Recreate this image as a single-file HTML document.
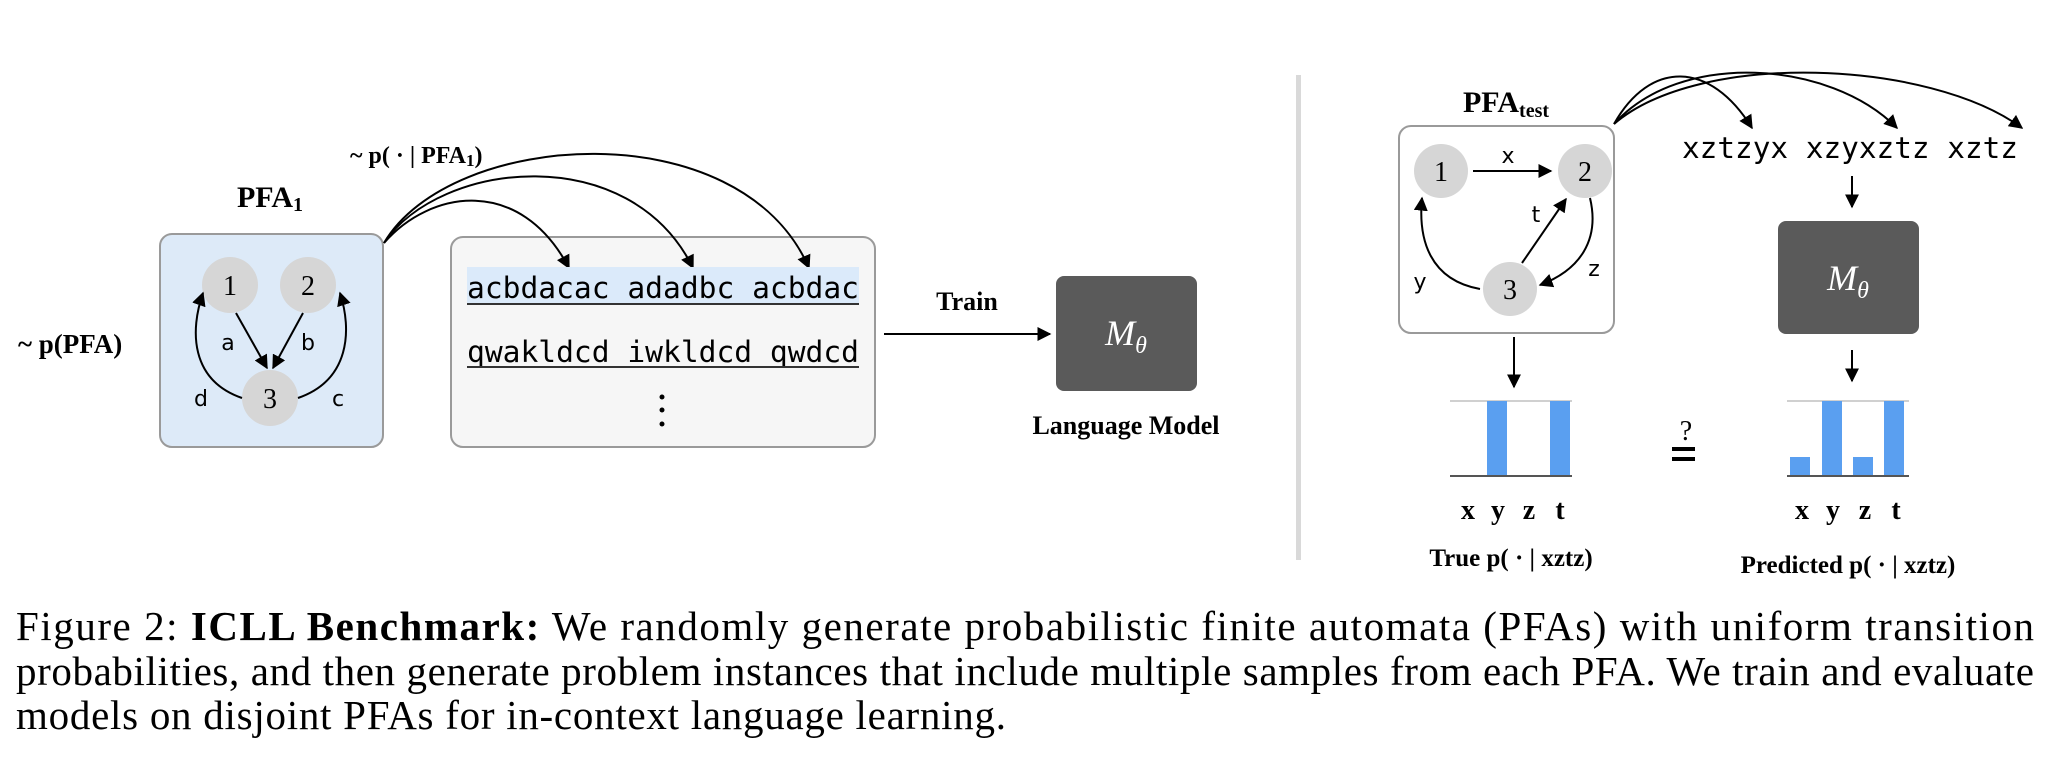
<!DOCTYPE html>
<html><head><meta charset="utf-8"><style>
html,body{margin:0;padding:0;background:#fff}
svg{display:block}
.serif{font-family:"Liberation Serif",serif}
.mono{font-family:"DejaVu Sans Mono","Liberation Mono",monospace}
.sans{font-family:"DejaVu Sans","Liberation Sans",sans-serif}
</style></head><body>
<svg width="2052" height="778" viewBox="0 0 2052 778" xmlns="http://www.w3.org/2000/svg">
<defs>
<marker id="ah" viewBox="0 0 10 10" refX="9" refY="5" markerWidth="7" markerHeight="7" orient="auto-start-reverse">
<path d="M0,0 L10,5 L0,10 z" fill="#000"/></marker>
</defs>
<rect width="2052" height="778" fill="#fff"/>

<!-- left -->
<text x="18" y="353" class="serif" font-size="27" font-weight="bold">~ p(PFA)</text>
<text x="270" y="207" text-anchor="middle" class="serif" font-size="30" font-weight="bold">PFA<tspan font-size="20" dy="4">1</tspan></text>
<rect x="160" y="234" width="223" height="213" rx="12" fill="#ddeaf8" stroke="#9a9a9a" stroke-width="2"/>
<circle cx="230" cy="285" r="28" fill="#d6d6d6"/>
<circle cx="308" cy="285" r="28" fill="#d6d6d6"/>
<circle cx="270" cy="398" r="28" fill="#d6d6d6"/>
<text x="230" y="295" text-anchor="middle" class="serif" font-size="28">1</text>
<text x="308" y="295" text-anchor="middle" class="serif" font-size="28">2</text>
<text x="270" y="408" text-anchor="middle" class="serif" font-size="28">3</text>
<g stroke="#000" stroke-width="2" fill="none" marker-end="url(#ah)">
<line x1="236" y1="313" x2="267" y2="368"/>
<line x1="303" y1="313" x2="273" y2="368"/>
<path d="M242,398 C190,380 190,330 203,293"/>
<path d="M298,398 C350,380 352,330 340,293"/>
</g>
<text x="228" y="350" text-anchor="middle" class="sans" font-size="22">a</text>
<text x="308" y="350" text-anchor="middle" class="sans" font-size="22">b</text>
<text x="201" y="406" text-anchor="middle" class="sans" font-size="22">d</text>
<text x="338" y="406" text-anchor="middle" class="sans" font-size="22">c</text>

<rect x="451" y="237" width="424" height="210" rx="12" fill="#f6f6f6" stroke="#9a9a9a" stroke-width="2"/>
<text x="350" y="163" class="serif" font-size="24" font-weight="bold">~ p( · | PFA<tspan font-size="17" dy="3">1</tspan><tspan dy="-3">)</tspan></text>
<g stroke="#000" stroke-width="2" fill="none" marker-end="url(#ah)">
<path d="M384,243 C430,190 520,175 569,268"/>
<path d="M384,243 C440,160 630,140 693,268"/>
<path d="M384,243 C450,130 740,110 809,268"/>
</g>

<rect x="467" y="267" width="392" height="38" fill="#dbeafa"/>
<text x="467" y="298" class="mono" font-size="29" textLength="392" lengthAdjust="spacingAndGlyphs">acbdacac adadbc acbdac</text>
<line x1="467" y1="304" x2="859" y2="304" stroke="#333" stroke-width="2"/>
<text x="467" y="362" class="mono" font-size="29" textLength="392" lengthAdjust="spacingAndGlyphs">qwakldcd iwkldcd qwdcd</text>
<line x1="467" y1="367" x2="859" y2="367" stroke="#333" stroke-width="2"/>
<circle cx="662" cy="397" r="2.5" fill="#000"/>
<circle cx="662" cy="410" r="2.5" fill="#000"/>
<circle cx="662" cy="424" r="2.5" fill="#000"/>

<text x="967" y="310" text-anchor="middle" class="serif" font-size="26" font-weight="bold">Train</text>
<line x1="884" y1="334" x2="1050" y2="334" stroke="#000" stroke-width="2" marker-end="url(#ah)"/>
<rect x="1056" y="276" width="141" height="115" rx="8" fill="#5a5a5a"/>
<text x="1126" y="345" text-anchor="middle" class="serif" font-size="36" font-style="italic" fill="#fff">M<tspan font-size="24" dy="8">θ</tspan></text>
<text x="1126" y="434" text-anchor="middle" class="serif" font-size="26" font-weight="bold">Language Model</text>

<rect x="1296" y="75" width="5" height="485" fill="#d9d9d9"/>

<!-- right -->
<text x="1506" y="112" text-anchor="middle" class="serif" font-size="30" font-weight="bold">PFA<tspan font-size="20" dy="5">test</tspan></text>
<rect x="1399" y="126" width="215" height="207" rx="12" fill="#fff" stroke="#9a9a9a" stroke-width="2"/>
<circle cx="1441" cy="171" r="27" fill="#d6d6d6"/>
<circle cx="1585" cy="171" r="27" fill="#d6d6d6"/>
<circle cx="1510" cy="289" r="27" fill="#d6d6d6"/>
<text x="1441" y="181" text-anchor="middle" class="serif" font-size="28">1</text>
<text x="1585" y="181" text-anchor="middle" class="serif" font-size="28">2</text>
<text x="1510" y="299" text-anchor="middle" class="serif" font-size="28">3</text>
<g stroke="#000" stroke-width="2" fill="none" marker-end="url(#ah)">
<line x1="1473" y1="171" x2="1551" y2="171"/>
<line x1="1522" y1="263" x2="1566" y2="199"/>
<path d="M1480,289 C1430,280 1418,240 1422,198"/>
<path d="M1590,198 C1600,240 1580,270 1540,285"/>
</g>
<text x="1508" y="163" text-anchor="middle" class="sans" font-size="22">x</text>
<text x="1536" y="222" text-anchor="middle" class="sans" font-size="22">t</text>
<text x="1420" y="289" text-anchor="middle" class="sans" font-size="22">y</text>
<text x="1594" y="276" text-anchor="middle" class="sans" font-size="22">z</text>

<g stroke="#000" stroke-width="2" fill="none" marker-end="url(#ah)">
<path d="M1614,124 C1650,60 1710,60 1752,128"/>
<path d="M1614,124 C1680,50 1830,60 1897,128"/>
<path d="M1614,124 C1700,50 1930,60 2022,128"/>
</g>
<text x="1682" y="158" class="mono" font-size="29" textLength="336" lengthAdjust="spacingAndGlyphs">xztzyx xzyxztz xztz</text>
<line x1="1852" y1="176" x2="1852" y2="207" stroke="#000" stroke-width="2" marker-end="url(#ah)"/>
<rect x="1778" y="221" width="141" height="113" rx="8" fill="#5a5a5a"/>
<text x="1848" y="290" text-anchor="middle" class="serif" font-size="36" font-style="italic" fill="#fff">M<tspan font-size="24" dy="8">θ</tspan></text>
<line x1="1852" y1="350" x2="1852" y2="381" stroke="#000" stroke-width="2" marker-end="url(#ah)"/>
<line x1="1514" y1="337" x2="1514" y2="387" stroke="#000" stroke-width="2" marker-end="url(#ah)"/>

<line x1="1450" y1="401" x2="1572" y2="401" stroke="#d0d0d0" stroke-width="2"/>
<rect x="1487" y="401" width="20" height="75" fill="#5a9ff0"/>
<rect x="1550" y="401" width="20" height="75" fill="#5a9ff0"/>
<line x1="1450" y1="476" x2="1572" y2="476" stroke="#555" stroke-width="2"/>
<line x1="1787" y1="401" x2="1909" y2="401" stroke="#d0d0d0" stroke-width="2"/>
<rect x="1790" y="457" width="20" height="19" fill="#5a9ff0"/>
<rect x="1822" y="401" width="20" height="75" fill="#5a9ff0"/>
<rect x="1853" y="457" width="20" height="19" fill="#5a9ff0"/>
<rect x="1884" y="401" width="20" height="75" fill="#5a9ff0"/>
<line x1="1787" y1="476" x2="1909" y2="476" stroke="#555" stroke-width="2"/>

<g class="serif" font-size="28" font-weight="bold" text-anchor="middle">
<text x="1468" y="519">x</text><text x="1498" y="519">y</text><text x="1529" y="519">z</text><text x="1560" y="519">t</text>
<text x="1802" y="519">x</text><text x="1833" y="519">y</text><text x="1865" y="519">z</text><text x="1896" y="519">t</text>
</g>
<text x="1511" y="566" text-anchor="middle" class="serif" font-size="25" font-weight="bold">True p( · | xztz)</text>
<text x="1848" y="573" text-anchor="middle" class="serif" font-size="25" font-weight="bold">Predicted p( · | xztz)</text>
<text x="1686" y="440" text-anchor="middle" class="serif" font-size="28">?</text>
<rect x="1672" y="447" width="23" height="4" fill="#000"/>
<rect x="1672" y="457" width="23" height="4" fill="#000"/>

<!-- caption -->
<text x="16" y="640" class="serif" font-size="41" textLength="2018" lengthAdjust="spacing">Figure 2: <tspan font-weight="bold">ICLL Benchmark:</tspan> We randomly generate probabilistic finite automata (PFAs) with uniform transition</text>
<text x="16" y="685" class="serif" font-size="41" textLength="2018" lengthAdjust="spacing">probabilities, and then generate problem instances that include multiple samples from each PFA. We train and evaluate</text>
<text x="16" y="729" class="serif" font-size="41" textLength="990" lengthAdjust="spacing">models on disjoint PFAs for in-context language learning.</text>
</svg>
</body></html>
